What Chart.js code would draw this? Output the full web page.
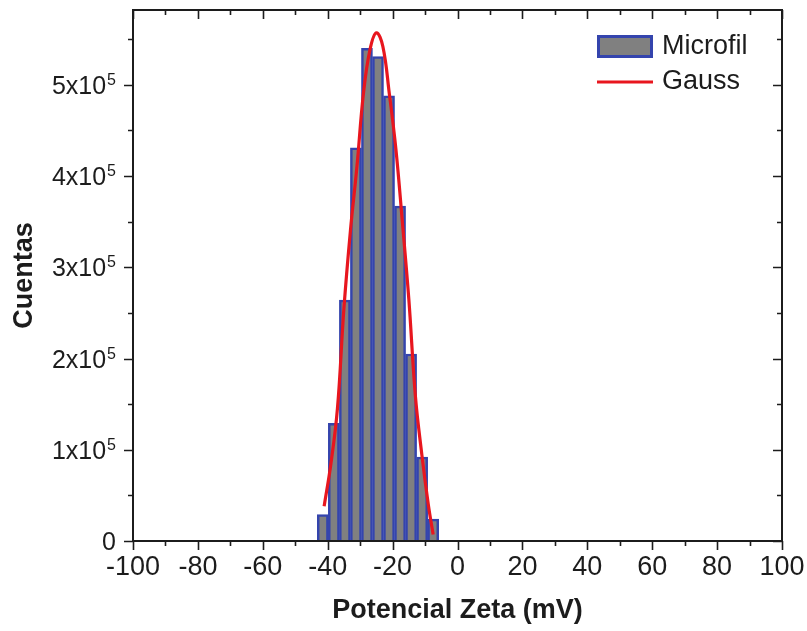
<!DOCTYPE html>
<html><head><meta charset="utf-8">
<script src="https://cdn.jsdelivr.net/npm/chart.js@4"></script>
<style>html,body{margin:0;padding:0;background:#fff}#wrap{width:807px;height:631px;position:relative}</style>
</head><body><div id="wrap"><canvas id="c"></canvas></div>
<script>
// Histogram (Microfil)
const binCenters = [-41.5, -38.1, -34.7, -31.3, -27.9, -24.5, -21.1, -17.7, -14.3, -10.9, -7.5];
const counts = [29000, 129000, 264000, 431000, 540000, 531000, 488000, 367000, 205000, 92000, 24000];
// Gauss fit curve
const gaussX = [-41.1, -39, -37, -35, -33, -31, -29, -27, -25, -23, -21, -19, -17, -15, -13, -11, -9, -7.5];
const gaussY = [38000, 85000, 145000, 255000, 340000, 410000, 490000, 538000, 557000, 542000, 490000, 430000, 350000, 265000, 160000, 95000, 40000, 7000];
// Axis ticks
const xTickValues = [-100, -80, -60, -40, -20, 0, 20, 40, 60, 80, 100];
const yTickValues = [0, 100000, 200000, 300000, 400000, 500000];
const yTickMantissa = ['0', '1x10', '2x10', '3x10', '4x10', '5x10'];
const yTickExponent = ['', '5', '5', '5', '5', '5'];
const seriesNames = ['Microfil', 'Gauss'];

const FONT = "'Liberation Sans', Arial, sans-serif";
const INK = '#1c1c1c';
const BAR_FILL = '#808080';
const BAR_EDGE = '#3444ad';
const RED = '#e8161e';

const framePlugin = {
  id: 'frame',
  afterDraw(chart) {
    const ctx = chart.ctx;
    const a = chart.chartArea;
    const xs = chart.scales.x, ys = chart.scales.y;
    ctx.save();
    ctx.strokeStyle = INK;
    ctx.lineWidth = 1.6;
    // ticks
    ctx.beginPath();
    for (let v = -100; v <= 100; v += 10) {
      const px = Math.round(xs.getPixelForValue(v)) + 0.5;
      const len = (v % 20 === 0) ? 9 : 5;
      ctx.moveTo(px, a.bottom); ctx.lineTo(px, a.bottom + len);
      ctx.moveTo(px, a.top); ctx.lineTo(px, a.top + len);
    }
    for (let v = 0; v <= ys.max; v += 50000) {
      const py = Math.round(ys.getPixelForValue(v)) + 0.5;
      const len = (v % 100000 === 0) ? 9 : 5;
      ctx.moveTo(a.left, py); ctx.lineTo(a.left - len, py);
      ctx.moveTo(a.right, py); ctx.lineTo(a.right - len, py);
    }
    ctx.stroke();
    // frame
    ctx.lineWidth = 2;
    ctx.strokeRect(a.left, a.top, a.right - a.left, a.bottom - a.top);
    // y tick labels with superscript exponent
    ctx.fillStyle = INK;
    ctx.textBaseline = 'alphabetic';
    yTickValues.forEach((v, i) => {
      const py = ys.getPixelForValue(v);
      const right = a.left - 17;
      let x = right;
      ctx.textAlign = 'right';
      if (yTickExponent[i]) {
        ctx.font = '16px ' + FONT;
        ctx.fillText(yTickExponent[i], x, py);
        x -= ctx.measureText(yTickExponent[i]).width + 1;
      }
      ctx.font = '25px ' + FONT;
      ctx.fillText(yTickMantissa[i], x, py + 9);
    });
    // legend
    const ds = chart.data.datasets;
    const lx = 597, lw = 56;
    ctx.fillStyle = ds[0].backgroundColor;
    ctx.fillRect(lx, 35, lw, 23);
    ctx.strokeStyle = ds[0].borderColor;
    ctx.lineWidth = 3;
    ctx.strokeRect(lx + 1.5, 36.5, lw - 3, 20);
    ctx.strokeStyle = ds[1].borderColor;
    ctx.lineWidth = 3;
    ctx.beginPath(); ctx.moveTo(lx, 82); ctx.lineTo(lx + lw, 82); ctx.stroke();
    ctx.fillStyle = INK;
    ctx.font = '27px ' + FONT;
    ctx.textAlign = 'left';
    ctx.textBaseline = 'middle';
    ctx.fillText(ds[0].label, 662, 47);
    ctx.fillText(ds[1].label, 662, 82);
    ctx.restore();
  }
};

new Chart(document.getElementById('c'), {
  type: 'bar',
  data: {
    datasets: [
      {
        type: 'bar',
        label: seriesNames[0],
        data: binCenters.map((x, i) => ({ x: x, y: counts[i] })),
        backgroundColor: BAR_FILL,
        borderColor: BAR_EDGE,
        borderWidth: 2.5,
        barPercentage: 1,
        categoryPercentage: 1,
        order: 2
      },
      {
        type: 'line',
        label: seriesNames[1],
        data: gaussX.map((x, i) => ({ x: x, y: gaussY[i] })),
        borderColor: RED,
        backgroundColor: RED,
        borderWidth: 3.2,
        pointRadius: 0,
        tension: 0.4,
        fill: false,
        order: 1
      }
    ]
  },
  options: {
    responsive: true,
    maintainAspectRatio: false,
    animation: false,
    layout: { padding: { top: 10, right: 25, left: 0, bottom: 0 } },
    plugins: { legend: { display: false }, tooltip: { enabled: false } },
    scales: {
      x: {
        type: 'linear',
        offset: false,
        min: -100, max: 100,
        afterBuildTicks: (s) => { s.ticks = xTickValues.map(v => ({ value: v })); },
        afterFit: (s) => { s.height = 90; s.paddingLeft = 0; s.paddingRight = 0; },
        ticks: { color: INK, font: { size: 27, family: FONT }, padding: 10, maxRotation: 0, autoSkip: false },
        grid: { display: false, drawTicks: false, tickLength: 0, offset: false },
        border: { display: false },
        title: { display: true, text: 'Potencial Zeta (mV)', color: INK, font: { size: 27, weight: 'bold', family: FONT }, padding: { top: 0, bottom: 4 } }
      },
      y: {
        type: 'linear',
        min: 0, max: 582000,
        afterBuildTicks: (s) => { s.ticks = yTickValues.map(v => ({ value: v })); },
        afterFit: (s) => { s.width = 133; s.paddingTop = 0; s.paddingBottom = 0; },
        ticks: { display: false },
        grid: { display: false, drawTicks: false, tickLength: 0 },
        border: { display: false },
        title: { display: true, text: 'Cuentas', color: INK, font: { size: 27, weight: 'bold', family: FONT }, padding: { top: 8, bottom: 0 } }
      }
    }
  },
  plugins: [framePlugin]
});
</script>
</body></html>
